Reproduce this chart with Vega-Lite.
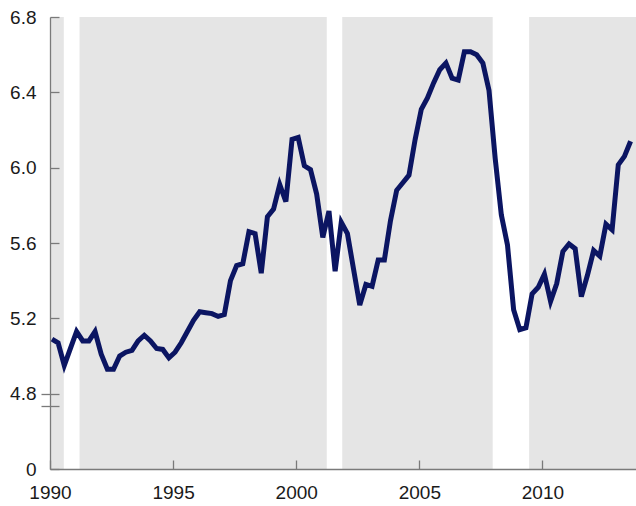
{
  "$schema": "https://vega.github.io/schema/vega-lite/v6.json",
  "width": 586,
  "height": 452,
  "autosize": {"type": "none"},
  "padding": {"left": 50, "top": 17, "right": 0, "bottom": 37},
  "config": {
    "view": {"stroke": null},
    "axis": {
      "labelFont": "Liberation Sans",
      "labelFontSize": 19,
      "labelColor": "#1a1a1a",
      "domainColor": "#7a7a7a",
      "tickColor": "#7a7a7a",
      "domainWidth": 1.3,
      "tickWidth": 1.3,
      "grid": false,
      "title": null
    }
  },
  "datasets": {
    "bands": [
      {"start": 1990.0, "end": 1990.56},
      {"start": 1991.2, "end": 2001.24},
      {"start": 2001.87, "end": 2007.98},
      {"start": 2009.46, "end": 2013.8}
    ],
    "series": [
      {"t": 1990.08, "rate": 5.09}, {"t": 1990.33, "rate": 5.07}, {"t": 1990.58, "rate": 4.95}, {"t": 1990.83, "rate": 5.04},
      {"t": 1991.08, "rate": 5.13}, {"t": 1991.33, "rate": 5.08}, {"t": 1991.58, "rate": 5.08}, {"t": 1991.83, "rate": 5.13},
      {"t": 1992.08, "rate": 5.01}, {"t": 1992.33, "rate": 4.93}, {"t": 1992.58, "rate": 4.93}, {"t": 1992.83, "rate": 5.0},
      {"t": 1993.08, "rate": 5.02}, {"t": 1993.33, "rate": 5.03}, {"t": 1993.58, "rate": 5.08}, {"t": 1993.83, "rate": 5.11},
      {"t": 1994.08, "rate": 5.08}, {"t": 1994.33, "rate": 5.04}, {"t": 1994.58, "rate": 5.035}, {"t": 1994.83, "rate": 4.99},
      {"t": 1995.08, "rate": 5.02}, {"t": 1995.33, "rate": 5.07}, {"t": 1995.58, "rate": 5.13}, {"t": 1995.83, "rate": 5.19},
      {"t": 1996.08, "rate": 5.235}, {"t": 1996.33, "rate": 5.23}, {"t": 1996.58, "rate": 5.225}, {"t": 1996.83, "rate": 5.21},
      {"t": 1997.08, "rate": 5.22}, {"t": 1997.33, "rate": 5.4}, {"t": 1997.58, "rate": 5.48}, {"t": 1997.83, "rate": 5.49},
      {"t": 1998.08, "rate": 5.66}, {"t": 1998.33, "rate": 5.65}, {"t": 1998.58, "rate": 5.44}, {"t": 1998.83, "rate": 5.74},
      {"t": 1999.08, "rate": 5.78}, {"t": 1999.33, "rate": 5.91}, {"t": 1999.58, "rate": 5.82}, {"t": 1999.83, "rate": 6.15},
      {"t": 2000.08, "rate": 6.16}, {"t": 2000.33, "rate": 6.01}, {"t": 2000.58, "rate": 5.99}, {"t": 2000.83, "rate": 5.86},
      {"t": 2001.08, "rate": 5.63}, {"t": 2001.33, "rate": 5.77}, {"t": 2001.58, "rate": 5.45}, {"t": 2001.83, "rate": 5.71},
      {"t": 2002.08, "rate": 5.65}, {"t": 2002.33, "rate": 5.46}, {"t": 2002.58, "rate": 5.27}, {"t": 2002.83, "rate": 5.38},
      {"t": 2003.08, "rate": 5.37}, {"t": 2003.33, "rate": 5.51}, {"t": 2003.58, "rate": 5.51}, {"t": 2003.83, "rate": 5.72},
      {"t": 2004.08, "rate": 5.88}, {"t": 2004.33, "rate": 5.92}, {"t": 2004.58, "rate": 5.96}, {"t": 2004.83, "rate": 6.15},
      {"t": 2005.08, "rate": 6.31}, {"t": 2005.33, "rate": 6.37}, {"t": 2005.58, "rate": 6.45}, {"t": 2005.83, "rate": 6.52},
      {"t": 2006.08, "rate": 6.555}, {"t": 2006.33, "rate": 6.475}, {"t": 2006.58, "rate": 6.465}, {"t": 2006.83, "rate": 6.615},
      {"t": 2007.08, "rate": 6.615}, {"t": 2007.33, "rate": 6.6}, {"t": 2007.58, "rate": 6.555}, {"t": 2007.83, "rate": 6.41},
      {"t": 2008.08, "rate": 6.05}, {"t": 2008.33, "rate": 5.75}, {"t": 2008.58, "rate": 5.59}, {"t": 2008.83, "rate": 5.245},
      {"t": 2009.08, "rate": 5.14}, {"t": 2009.33, "rate": 5.15}, {"t": 2009.58, "rate": 5.33}, {"t": 2009.83, "rate": 5.365},
      {"t": 2010.08, "rate": 5.435}, {"t": 2010.33, "rate": 5.29}, {"t": 2010.58, "rate": 5.385}, {"t": 2010.83, "rate": 5.555},
      {"t": 2011.08, "rate": 5.595}, {"t": 2011.33, "rate": 5.57}, {"t": 2011.58, "rate": 5.315}, {"t": 2011.83, "rate": 5.43},
      {"t": 2012.08, "rate": 5.56}, {"t": 2012.33, "rate": 5.53}, {"t": 2012.58, "rate": 5.7}, {"t": 2012.83, "rate": 5.67},
      {"t": 2013.08, "rate": 6.015}, {"t": 2013.33, "rate": 6.06}, {"t": 2013.58, "rate": 6.14}
    ]
  },
  "resolve": {"axis": {"y": "independent"}},
  "layer": [
    {
      "data": {"name": "bands"},
      "mark": {"type": "rect", "color": "#e5e5e5"},
      "encoding": {
        "x": {
          "field": "start", "type": "quantitative",
          "scale": {"domain": [1990, 2013.8], "nice": false, "zero": false},
          "axis": {"values": [1990, 1995, 2000, 2005, 2010], "format": "d", "tickSize": -9, "labelPadding": 23, "title": null, "labelFlush": false, "domain": true, "ticks": true, "zindex": 2}
        },
        "x2": {"field": "end"},
        "y": {
          "datum": 4.4, "type": "quantitative",
          "scale": {"domain": [4.4, 6.8], "nice": false, "zero": false},
          "axis": {"orient": "left", "values": [4.735, 4.8], "tickSize": 9, "labels": false, "domain": false, "title": null, "zindex": 2}
        },
        "y2": {"datum": 6.8}
      }
    },
    {
      "data": {"name": "series"},
      "mark": {"type": "line", "color": "#0b1562", "strokeWidth": 5, "clip": true},
      "encoding": {
        "x": {
          "field": "t", "type": "quantitative",
          "axis": {"values": [1990, 1995, 2000, 2005, 2010], "format": "d", "tickSize": -9, "labelPadding": 23, "title": null, "labelFlush": false, "domain": true, "ticks": true, "zindex": 2}
        },
        "y": {
          "field": "rate", "type": "quantitative",
          "axis": {
            "orient": "left",
            "values": [4.4, 4.735, 4.8, 5.2, 5.6, 6.0, 6.4, 6.8],
            "labelExpr": "datum.value < 4.5 ? '0' : (datum.value < 4.79 ? '' : format(datum.value, '.1f'))",
            "tickSize": -9,
            "labelPadding": 23,
            "labelFlush": false,
            "domain": true,
            "ticks": true,
            "zindex": 2,
            "title": null
          }
        }
      }
    }
  ]
}
